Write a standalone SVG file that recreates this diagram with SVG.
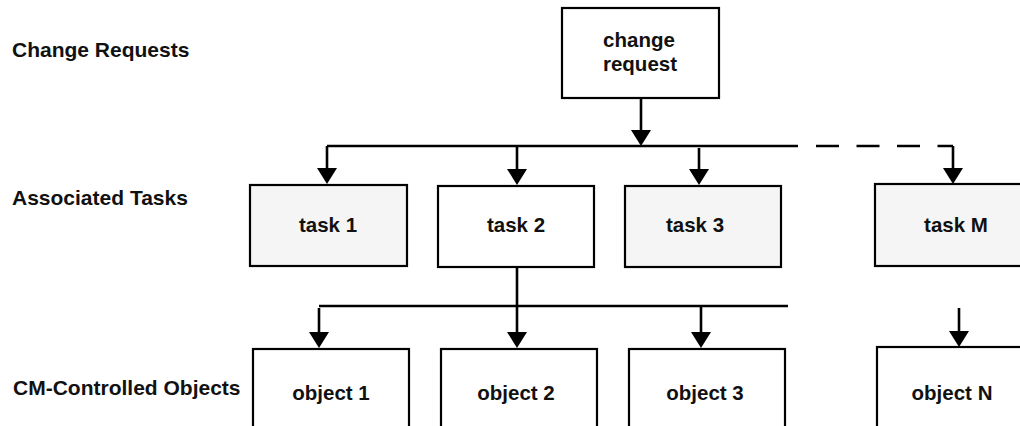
<svg xmlns="http://www.w3.org/2000/svg" width="1020" height="426" viewBox="0 0 1020 426">
  <style>
    .label { font-family: "Liberation Sans", Arial, sans-serif; font-weight: bold; font-size: 21px; fill: #111; }
    .ntext { font-family: "Liberation Sans", Arial, sans-serif; font-weight: bold; font-size: 20.5px; fill: #111; text-anchor: middle; }
    .box { stroke: #000; stroke-width: 2.2; fill: #fff; }
    .shaded { fill: #f5f5f5; }
    .wire { stroke: #000; stroke-width: 2.6; fill: none; }
    .arrow { stroke: #000; stroke-width: 2.6; fill: none; marker-end: url(#head); }
    .dash { stroke: #000; stroke-width: 2.6; fill: none; stroke-dasharray: 23 17.5; }
  </style>
  <defs>
    <!-- solid triangular arrowhead; tip sits 6px past the line end -->
    <marker id="head" viewBox="0 0 16 20" refX="10" refY="10" markerWidth="16" markerHeight="20" markerUnits="userSpaceOnUse" orient="auto">
      <path d="M0,0 L16,10 L0,20 Z" fill="#000"/>
    </marker>
  </defs>

  <rect width="1020" height="426" fill="#fff"/>

  <!-- row labels -->
  <g id="row-labels">
    <text class="label" x="12" y="57">Change Requests</text>
    <text class="label" x="12" y="205">Associated Tasks</text>
    <text class="label" x="13" y="395">CM-Controlled Objects</text>
  </g>

  <!-- connectors -->
  <g id="connectors">
    <!-- change request down to the task bus -->
    <path class="arrow" d="M641,98 V140"/>
    <!-- task bus -->
    <path class="wire" d="M327,146 H798"/>
    <path class="dash" d="M816,146 H953"/>
    <path class="arrow" d="M327,146 V178"/>
    <path class="arrow" d="M517,146 V179"/>
    <path class="arrow" d="M699,148 V179"/>
    <path class="arrow" d="M953,146 V178"/>
    <!-- task 2 down to the object bus -->
    <path class="arrow" d="M517,267 V342"/>
    <path class="wire" d="M319,306 H788"/>
    <path class="arrow" d="M319,308 V342"/>
    <path class="arrow" d="M701,307 V342"/>
    <path class="arrow" d="M959,308 V341"/>
  </g>

  <!-- change request -->
  <g id="change-request">
    <rect class="box" x="562" y="8" width="157" height="90"/>
    <text class="ntext" x="639" y="47">change</text>
    <text class="ntext" x="640" y="71">request</text>
  </g>

  <!-- tasks -->
  <g id="task-1">
    <rect class="box shaded" x="250" y="185" width="157" height="81"/>
    <text class="ntext" x="328" y="232">task 1</text>
  </g>
  <g id="task-2">
    <rect class="box" x="438" y="186" width="156" height="81"/>
    <text class="ntext" x="516" y="232">task 2</text>
  </g>
  <g id="task-3">
    <rect class="box shaded" x="625" y="186" width="156" height="81"/>
    <text class="ntext" x="695" y="232">task 3</text>
  </g>
  <g id="task-m">
    <rect class="box shaded" x="875" y="184" width="158" height="82"/>
    <text class="ntext" x="956" y="232">task M</text>
  </g>

  <!-- controlled objects -->
  <g id="object-1">
    <rect class="box" x="253" y="349" width="156" height="90"/>
    <text class="ntext" x="331" y="400">object 1</text>
  </g>
  <g id="object-2">
    <rect class="box" x="441" y="349" width="156" height="90"/>
    <text class="ntext" x="516" y="400">object 2</text>
  </g>
  <g id="object-3">
    <rect class="box" x="629" y="349" width="156" height="90"/>
    <text class="ntext" x="705" y="400">object 3</text>
  </g>
  <g id="object-n">
    <rect class="box" x="877" y="347" width="157" height="92"/>
    <text class="ntext" x="952" y="400">object N</text>
  </g>
</svg>
